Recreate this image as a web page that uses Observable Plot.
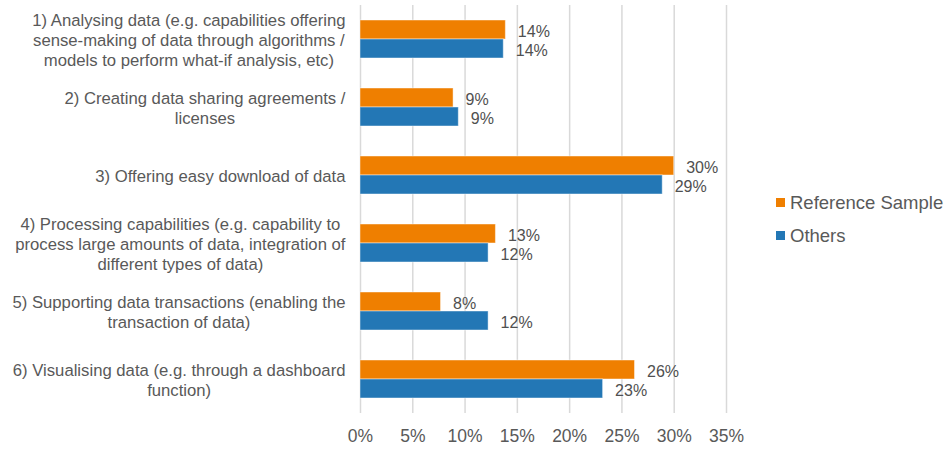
<!DOCTYPE html>
<html><head><meta charset="utf-8">
<script src="https://cdn.jsdelivr.net/npm/d3@7"></script>
<script src="https://cdn.jsdelivr.net/npm/@observablehq/plot@0.6"></script>
<style>
body{margin:0;background:#fff;font-family:"Liberation Sans",Arial,sans-serif;}
#wrap{position:relative;width:950px;height:450px;}
#legend{position:absolute;left:776px;top:186px;color:#595959;font-size:18.5px;}
.item{display:flex;align-items:center;height:33px;}
.sw{width:9px;height:9px;margin-right:5px;}
</style></head><body><div id="wrap"><div id="legend"></div></div>
<script>
const categories = ["1) Analysing data", "2) Creating data sharing agreements", "3) Offering easy download of data", "4) Processing capabilities", "5) Supporting data transactions", "6) Visualising data"];
const categoryLabels = [
  "1) Analysing data (e.g. capabilities offering\nsense-making of data through algorithms /\nmodels to perform what-if analysis, etc)",
  "2) Creating data sharing agreements /\nlicenses",
  "3) Offering easy download of data",
  "4) Processing capabilities (e.g. capability to\nprocess large amounts of data, integration of\ndifferent types of data)",
  "5) Supporting data transactions (enabling the\ntransaction of data)",
  "6) Visualising data (e.g. through a dashboard\nfunction)"
];
const series = ["Reference Sample", "Others"];
const referenceValues = [0.139, 0.089, 0.300, 0.1295, 0.077, 0.2625];
const othersValues = [0.137, 0.094, 0.289, 0.1225, 0.1225, 0.232];
const colors = ["#EF7F00", "#2377B5"];
const xTicks = [0, 0.05, 0.10, 0.15, 0.20, 0.25, 0.30, 0.35];

const rows = categories.flatMap((c, i) => [
  {category: c, series: series[0], value: referenceValues[i]},
  {category: c, series: series[1], value: othersValues[i]}
]);
const fmt = d3.format(".0%");
const font = "Liberation Sans, Arial, sans-serif";

const chart = Plot.plot({
  width: 950, height: 450,
  marginLeft: 360, marginRight: 224, marginTop: 3, marginBottom: 36,
  style: {fontFamily: font, color: "#595959", background: "#fff"},
  x: {domain: [0, 0.35], axis: null},
  y: {domain: series, axis: null, paddingInner: 0, paddingOuter: 0.77},
  fy: {domain: categories, axis: null, padding: 0},
  color: {domain: series, range: colors},
  marks: [
    Plot.gridX(xTicks, {stroke: "#d9d9d9", strokeOpacity: 1, strokeWidth: 1.5}),
    Plot.barX(rows, {x: "value", y: "series", fy: "category", fill: "series", stroke: "white", strokeOpacity: 0.45, strokeWidth: 1}),
    Plot.text(rows, {x: "value", y: "series", fy: "category", text: d => fmt(d.value), dx: 12, dy: 1.5, textAnchor: "start", fill: "#505050", fontSize: 16}),
    Plot.text(categories, {fy: d => d, text: (d, i) => categoryLabels[i], frameAnchor: "left", dx: -15, textAnchor: "end", lineHeight: 1.2, fontSize: 16.7, fill: "#595959"}),
    Plot.axisX(xTicks, {tickFormat: fmt, tickSize: 0, tickPadding: 16, fontSize: 17.5, fill: "#595959", label: null})
  ]
});
document.getElementById("wrap").appendChild(chart);

// centre each multi-line category label on its own widest line (block stays right-aligned)
chart.querySelectorAll("text").forEach(t => {
  const spans = t.querySelectorAll("tspan");
  if (spans.length < 2) return;
  let w = 0;
  spans.forEach(s => { w = Math.max(w, s.getComputedTextLength()); });
  t.setAttribute("text-anchor", "middle");
  t.style.textAnchor = "middle";
  spans.forEach(s => {
    const x0 = parseFloat(s.getAttribute("x")) || 0;
    s.setAttribute("x", x0 - w / 2);
    s.setAttribute("text-anchor", "middle");
  });
});

const legend = document.getElementById("legend");
series.forEach((s, i) => {
  const item = document.createElement("div");
  item.className = "item";
  const sw = document.createElement("span");
  sw.className = "sw";
  sw.style.background = colors[i];
  const tx = document.createElement("span");
  tx.textContent = s;
  item.appendChild(sw); item.appendChild(tx);
  legend.appendChild(item);
});
</script></body></html>
